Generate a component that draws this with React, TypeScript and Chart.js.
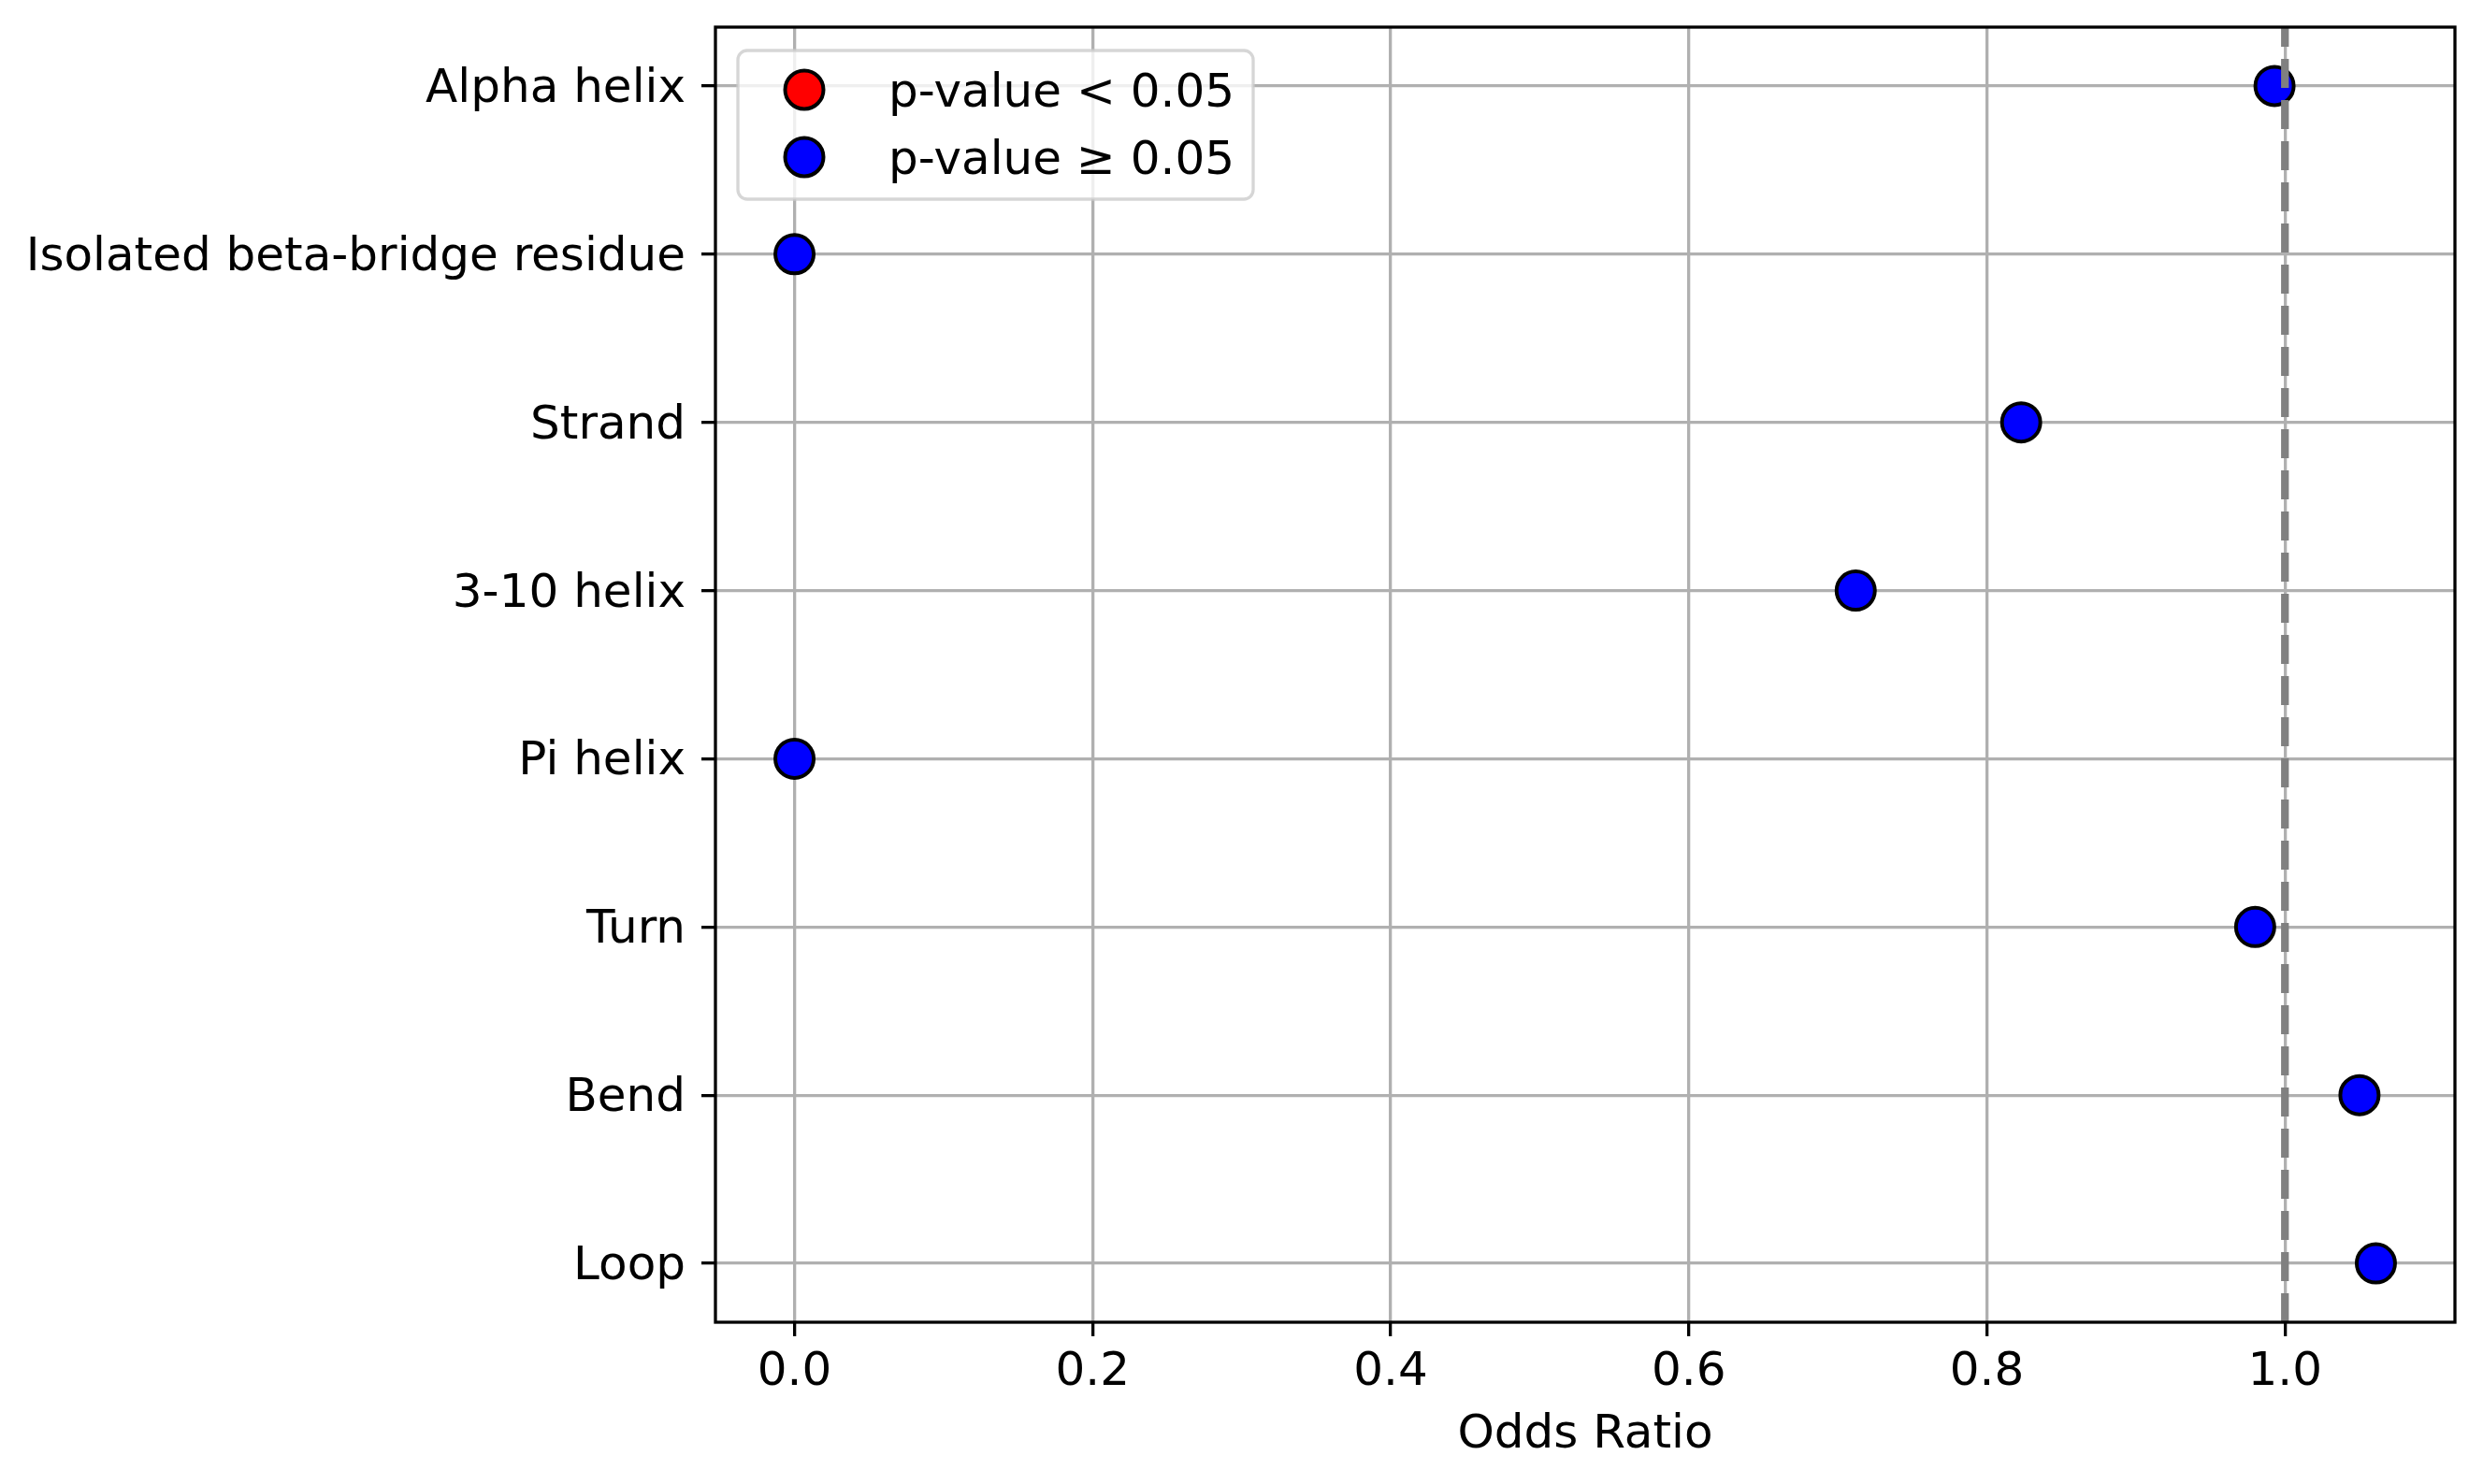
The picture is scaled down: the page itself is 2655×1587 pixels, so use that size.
import React, { useEffect, useRef } from 'react'
import { Chart, registerables } from 'chart.js'

Chart.register(...registerables)

const categories = [
  'Alpha helix',
  'Isolated beta-bridge residue',
  'Strand',
  '3-10 helix',
  'Pi helix',
  'Turn',
  'Bend',
  'Loop'
]
const oddsRatios = [0.993, 0.0, 0.823, 0.712, 0.0, 0.98, 1.05, 1.061]
const significant = [false, false, false, false, false, false, false, false]
const xTicks = [0, 0.2, 0.4, 0.6, 0.8, 1.0]
const referenceLine = 1.0
const legendLabels = ['p-value < 0.05', 'p-value \u2265 0.05']

const FONT = '"DejaVu Sans", sans-serif'

// matplotlib style 5% margins
const dataMin = Math.min(...oddsRatios)
const dataMax = Math.max(...oddsRatios)
const xMin = dataMin - (dataMax - dataMin) * 0.05
const xMax = dataMax + (dataMax - dataMin) * 0.05
const yMin = -0.35
const yMax = categories.length - 1 + 0.35

const framePlugin = {
  id: 'frameAndLegend',
  afterDraw(chart) {
    const { ctx, chartArea } = chart
    ctx.save()
    ctx.strokeStyle = '#000'
    ctx.lineWidth = 3.3
    ctx.strokeRect(chartArea.left, chartArea.top, chartArea.right - chartArea.left, chartArea.bottom - chartArea.top)

    // legend box, upper left
    const bx = chartArea.left + 24
    const by = chartArea.top + 25
    ctx.beginPath()
    ctx.roundRect(bx, by, 551, 159, 10)
    ctx.fillStyle = 'rgba(255,255,255,0.8)'
    ctx.fill()
    ctx.strokeStyle = 'rgba(204,204,204,0.8)'
    ctx.lineWidth = 3.3
    ctx.stroke()

    const items = chart.data.datasets.filter((d) => d.legend)
    items.forEach((d, i) => {
      const cy = chartArea.top + 67 + i * 72
      ctx.beginPath()
      ctx.arc(chartArea.left + 95, cy, 20.5, 0, Math.PI * 2)
      ctx.fillStyle = d.backgroundColor
      ctx.fill()
      ctx.strokeStyle = '#000'
      ctx.lineWidth = 4
      ctx.stroke()
      ctx.fillStyle = '#000'
      ctx.font = '50px ' + FONT
      ctx.textBaseline = 'middle'
      ctx.textAlign = 'left'
      ctx.fillText(d.label, chartArea.left + 185, cy + 5)
    })
    ctx.restore()
  }
}

const App = () => {
  const chartRef = useRef(null)
  const chartInstanceRef = useRef(null)

  useEffect(() => {
    const ctx = chartRef.current.getContext('2d')

    const sigPoints = []
    const nonSigPoints = []
    oddsRatios.forEach((v, i) => {
      const p = { x: v, y: i }
      if (significant[i]) sigPoints.push(p)
      else nonSigPoints.push(p)
    })

    const marker = {
      pointRadius: 20.5,
      pointHoverRadius: 20.5,
      pointBorderWidth: 4,
      pointHoverBorderWidth: 4,
      pointBorderColor: '#000'
    }

    chartInstanceRef.current = new Chart(ctx, {
      type: 'scatter',
      data: {
        datasets: [
          {
            type: 'line',
            label: 'ref',
            data: [
              { x: referenceLine, y: yMax },
              { x: referenceLine, y: yMin }
            ],
            borderColor: '#808080',
            borderWidth: 8.3,
            borderDash: [31, 13],
            borderCapStyle: 'butt',
            pointRadius: 0,
            showLine: true,
            order: 0
          },
          {
            label: legendLabels[0],
            legend: true,
            data: sigPoints,
            backgroundColor: 'red',
            pointBackgroundColor: 'red',
            ...marker,
            order: 1
          },
          {
            label: legendLabels[1],
            legend: true,
            data: nonSigPoints,
            backgroundColor: 'blue',
            pointBackgroundColor: 'blue',
            ...marker,
            order: 2
          }
        ]
      },
      options: {
        animation: false,
        responsive: false,
        devicePixelRatio: 1,
        layout: { padding: { top: 29, right: 30, left: 0, bottom: 0 } },
        plugins: {
          legend: { display: false },
          tooltip: { enabled: false }
        },
        scales: {
          x: {
            type: 'linear',
            position: 'bottom',
            min: xMin,
            max: xMax,
            z: 1,
            afterFit: (scale) => {
              scale.height = 173
              scale.paddingLeft = 0
              scale.paddingRight = 0
            },
            afterBuildTicks: (scale) => {
              scale.ticks = xTicks.map((v) => ({ value: v }))
            },
            ticks: {
              autoSkip: false,
              maxRotation: 0,
              padding: 9,
              color: '#000',
              font: { family: FONT, size: 50 },
              callback: (v) => Number(v).toFixed(1)
            },
            grid: {
              color: '#b0b0b0',
              lineWidth: 3.3,
              tickColor: '#000',
              tickWidth: 3.3,
              tickLength: 15
            },
            border: { display: false },
            title: {
              display: true,
              text: 'Odds Ratio',
              color: '#000',
              font: { family: FONT, size: 50 },
              padding: { top: 0, bottom: 22 }
            }
          },
          y: {
            type: 'linear',
            position: 'left',
            reverse: true,
            min: yMin,
            max: yMax,
            z: 1,
            afterFit: (scale) => {
              scale.width = 765
              scale.paddingTop = 0
              scale.paddingBottom = 0
            },
            afterBuildTicks: (scale) => {
              scale.ticks = categories.map((_, i) => ({ value: i }))
            },
            ticks: {
              autoSkip: false,
              padding: 17,
              labelOffset: 4,
              color: '#000',
              font: { family: FONT, size: 50 },
              callback: (v) => categories[v]
            },
            grid: {
              color: '#b0b0b0',
              lineWidth: 3.3,
              tickColor: '#000',
              tickWidth: 3.3,
              tickLength: 15
            },
            border: { display: false }
          }
        }
      },
      plugins: [framePlugin]
    })

    return () => {
      chartInstanceRef.current.destroy()
    }
  }, [])

  return (
    <div style={{ position: 'fixed', left: 0, top: 0, width: 2655, height: 1587, background: '#fff' }}>
      <canvas ref={chartRef} width={2655} height={1587} style={{ width: 2655, height: 1587 }}></canvas>
    </div>
  )
}

export default App
